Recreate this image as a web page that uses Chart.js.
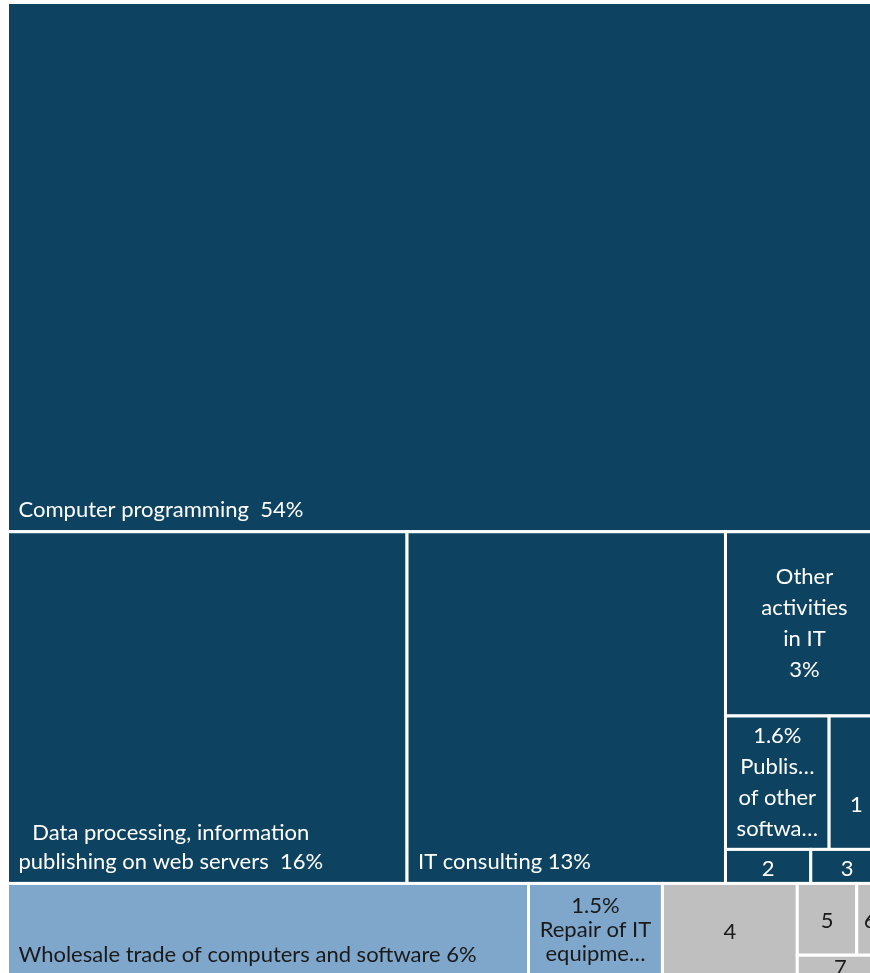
<!DOCTYPE html>
<html>
<head>
<meta charset="utf-8">
<script src="https://cdn.jsdelivr.net/npm/chart.js@4.4.1/dist/chart.umd.min.js"></script>
<style>
  html, body { margin: 0; padding: 0; background: #fff; overflow: hidden; }
  #wrap { width: 890px; height: 985px; }
</style>
</head>
<body>
<div id="wrap"><canvas id="treemap" width="890" height="985"></canvas></div>
<script>
// shares of the sector, in %
const categories = [
  "Computer programming",
  "Data processing, information publishing on web servers",
  "IT consulting",
  "Other activities in IT",
  "Publishing of other software",
  "1", "2", "3",
  "Wholesale trade of computers and software",
  "Repair of IT equipment",
  "4", "5", "6", "7"
];
const shares = [54.31, 16.46, 13.12, 3.41, 1.62, 0.85, 0.34, 0.29, 5.68, 1.46, 1.47, 0.50, 0.225, 0.215];
const groups = ["it", "it", "it", "it", "it", "it", "it", "it", "trade", "trade", "other", "other", "other", "other"];

// text shown in each box (as in the source, incl. truncation)
const box_labels = [
  ["Computer programming  54%"],
  ["Data processing, information", "publishing on web servers  16%"],
  ["IT consulting 13%"],
  ["Other", "activities", "in IT", "3%"],
  ["1.6%", "Publis…", "of other", "softwa…"],
  ["", "1"],
  ["2"],
  ["3"],
  ["Wholesale trade of computers and software 6%"],
  ["1.5%", "Repair of IT", "equipme…"],
  ["4"], ["5"], ["6"], ["7"]
];

const group_colours = { it: "#0d4361", trade: "#7fa6cb", other: "#bfbfbf" };
const group_text = { it: "#ffffff", trade: "#1a1a1a", other: "#1a1a1a" };
const bottom_left = ["Computer programming", "Data processing, information publishing on web servers", "IT consulting", "Wholesale trade of computers and software"];

const PAD = { left: 7.5, top: 2.5, right: 6.5, bottom: 8.5 };
const CANVAS_W = 890, CANVAS_H = 985;
const ASPECT = (CANVAS_W - PAD.left - PAD.right) / (CANVAS_H - PAD.top - PAD.bottom);

function meanAspect(areas, sum, side) {
  const t = sum / side;
  let s = 0;
  areas.forEach(a => {
    const l = a / t;
    s += Math.max(l / t, t / l);
  });
  return s / areas.length;
}

// squarified layout, rows along the shorter side
function squarify(items, rect, out) {
  let rest = items.slice();
  let { x, y, w, h } = rect;
  while (rest.length) {
    const horizontal = w <= h * 1.02;
    const side = horizontal ? w : h;
    let row = [rest[0]];
    let sum = rest[0].area;
    let best = meanAspect([sum], sum, side);
    for (let i = 1; i < rest.length; i++) {
      const tryRow = row.concat(rest[i]);
      const trySum = sum + rest[i].area;
      const a = meanAspect(tryRow.map(r => r.area), trySum, side);
      if (a > best * 1.2) break;
      row = tryRow; sum = trySum; best = a;
    }
    const t = sum / side;
    let offset = 0;
    row.forEach(r => {
      const l = r.area / t;
      if (horizontal) out.push({ item: r, x: x + offset, y: y, w: l, h: t });
      else out.push({ item: r, x: x, y: y + offset, w: t, h: l });
      offset += l;
    });
    if (horizontal) { y += t; h -= t; } else { x += t; w -= t; }
    rest = rest.slice(row.length);
  }
  return out;
}

function buildLayout() {
  const total = shares.reduce((a, b) => a + b, 0);
  const k = ASPECT / total;
  const leaves = categories.map((c, i) => ({ name: c, value: shares[i], area: shares[i] * k, group: groups[i], lines: box_labels[i] }));
  const groupNames = [...new Set(groups)];
  const groupItems = groupNames.map(g => {
    const children = leaves.filter(l => l.group === g).sort((a, b) => b.value - a.value);
    return { name: g, children, area: children.reduce((s, c) => s + c.area, 0) };
  }).sort((a, b) => b.area - a.area);

  const groupRects = squarify(groupItems, { x: 0, y: 0, w: ASPECT, h: 1 }, []);
  let cells = [];
  groupRects.forEach(gr => {
    squarify(gr.item.children, { x: gr.x, y: gr.y, w: gr.w, h: gr.h }, cells);
  });
  return cells;
}

const cells = buildLayout();

const treemapPlugin = {
  id: "treemapCells",
  afterDatasetsDraw(chart) {
    const ctx = chart.ctx;
    const xs = chart.scales.x, ys = chart.scales.y;
    const font = "22px Lato";
    const lineH = 31;

    cells.forEach(c => {
      const x0 = xs.getPixelForValue(c.x);
      const x1 = xs.getPixelForValue(c.x + c.w);
      const y0 = ys.getPixelForValue(c.y);
      const y1 = ys.getPixelForValue(c.y + c.h);
      const left = Math.min(x0, x1), top = Math.min(y0, y1);
      const w = Math.abs(x1 - x0), h = Math.abs(y1 - y0);

      ctx.save();
      ctx.fillStyle = group_colours[c.item.group];
      ctx.fillRect(left, top, w, h);
      ctx.strokeStyle = "#ffffff";
      ctx.lineWidth = 3;
      ctx.strokeRect(left, top, w, h);

      // label, clipped to its box
      ctx.beginPath();
      ctx.rect(left + 1.5, top + 1.5, w - 3, h - 3);
      ctx.clip();
      ctx.font = font;
      ctx.fillStyle = group_text[c.item.group];
      ctx.textBaseline = "middle";
      ctx.textAlign = "center";
      const lines = c.item.lines;
      const n = lines.length;
      if (bottom_left.includes(c.item.name)) {
        const blockW = Math.max(...lines.map(l => ctx.measureText(l).width));
        const cx = left + 11 + blockW / 2;
        const lastY = top + h - 22;
        lines.forEach((l, i) => ctx.fillText(l, cx, lastY - (n - 1 - i) * 29));
      } else {
        const cx = left + w / 2;
        const cy = top + h / 2 + (n === 1 ? 2 : 0);
        let lh = lineH;
        if (c.item.name === "Repair of IT equipment") lh = 24;
        if (c.item.name === "1") lh = 44;
        lines.forEach((l, i) => ctx.fillText(l, cx, cy + (i - (n - 1) / 2) * lh));
      }
      ctx.restore();
    });
  }
};

new Chart(document.getElementById("treemap").getContext("2d"), {
  type: "scatter",
  data: { datasets: [] },
  options: {
    responsive: false,
    animation: false,
    layout: { padding: PAD },
    plugins: { legend: { display: false }, tooltip: { enabled: false } },
    scales: {
      x: { type: "linear", min: 0, max: ASPECT, display: false },
      y: { type: "linear", min: 0, max: 1, reverse: true, display: false }
    }
  },
  plugins: [treemapPlugin]
});
</script>
</body>
</html>
